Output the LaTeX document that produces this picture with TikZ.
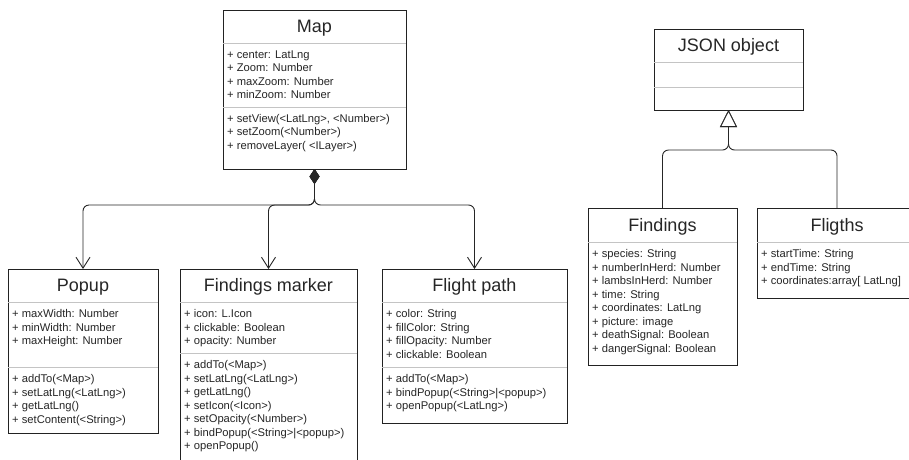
\documentclass[tikz,border=0pt]{standalone}
\usepackage{fontspec}
\setmainfont{Liberation Sans}
\usetikzlibrary{arrows.meta}
\definecolor{boxline}{HTML}{222222}
\definecolor{sepline}{HTML}{C4C4C4}
\tikzset{
  cls/.style={draw=boxline, line width=0.9pt, fill=white, inner sep=0pt, outer sep=0pt, anchor=north west},
  sep/.style={draw=sepline, line width=0.9pt},
  ttl/.style={anchor=base, inner sep=0pt, font=\fontsize{18}{20}\selectfont, text=black!85},
  txt/.style={anchor=base west, inner sep=0pt, font=\fontsize{11.2}{13}\selectfont, text=black!85},
  conn/.style={draw=black!85, line width=0.9pt, rounded corners=6pt},
  comp/.style={conn, {Diamond[length=15pt,width=10pt]}-{Straight Barb[length=11pt,width=14pt,line width=0.9pt]}},
  inh/.style={conn, -{Triangle[open,length=17pt,width=17pt,fill=white]}}
}
\newcommand\umllines[4]{%
  \foreach \t [count=\i] in {#4} \node[txt, name=#1\i] at (#2, {#3+(\i-1)*13.5}) {\t};}
\begin{document}
\begin{tikzpicture}[x=1pt,y=-1pt]
\clip (0,0) rectangle (909,459);
\fill[white] (0,0) rectangle (909,459);

% Map
\node[cls, minimum width=183pt, minimum height=159pt] (map) at (223,10) {};
\draw[sep] (223,43) -- (406,43);
\draw[sep] (223,107) -- (406,107);
\node[ttl] (mapt) at (314.5,32.8) {Map};
\umllines{mapa}{227}{58}{+ center: LatLng, + Zoom: Number, + maxZoom: Number, + minZoom: Number}
\umllines{mapm}{227}{122}{{+ setView(<LatLng>, <Number>)}, + setZoom(<Number>), + removeLayer( <ILayer>)}

% Popup
\node[cls, minimum width=150pt, minimum height=164pt] (popup) at (8,269) {};
\draw[sep] (8,302) -- (158,302);
\draw[sep] (8,367) -- (158,367);
\node[ttl] (popupt) at (83,291.8) {Popup};
\umllines{popa}{12}{317.5}{+ maxWidth: Number, + minWidth: Number, + maxHeight: Number}
\umllines{popm}{12}{382.5}{+ addTo(<Map>), + setLatLng(<LatLng>), + getLatLng(), + setContent(<String>)}

% Findings marker
\node[cls, minimum width=177pt, minimum height=210pt] (marker) at (180,269) {};
\draw[sep] (180,302) -- (357,302);
\draw[sep] (180,353) -- (357,353);
\node[ttl] (markert) at (268.5,291.8) {Findings marker};
\umllines{mara}{184}{317.5}{+ icon: L.Icon, + clickable: Boolean, + opacity: Number}
\umllines{marm}{184}{368.5}{+ addTo(<Map>), + setLatLng(<LatLng>), + getLatLng(), + setIcon(<Icon>), + setOpacity(<Number>), + bindPopup(<String>|<popup>), + openPopup()}

% Flight path
\node[cls, minimum width=185pt, minimum height=154pt] (flight) at (382,269) {};
\draw[sep] (382,302) -- (567,302);
\draw[sep] (382,367) -- (567,367);
\node[ttl] (flightt) at (474.5,291.8) {Flight path};
\umllines{flia}{386}{317.5}{+ color: String, + fillColor: String, + fillOpacity: Number, + clickable: Boolean}
\umllines{flim}{386}{382.5}{+ addTo(<Map>), + bindPopup(<String>|<popup>), + openPopup(<LatLng>)}

% JSON object
\node[cls, minimum width=149pt, minimum height=81pt] (json) at (654,29) {};
\draw[sep] (654,62) -- (803,62);
\draw[sep] (654,87) -- (803,87);
\node[ttl] (jsont) at (728.5,51.8) {JSON object};

% Findings
\node[cls, minimum width=149pt, minimum height=157pt] (findings) at (588,208) {};
\draw[sep] (588,242) -- (737,242);
\node[ttl] (findingst) at (662.5,231.3) {Findings};
\umllines{fina}{592}{257.5}{+ species: String, + numberInHerd: Number, + lambsInHerd: Number, + time: String, + coordinates: LatLng, + picture: image, + deathSignal: Boolean, + dangerSignal: Boolean}

% Fligths
\node[cls, minimum width=160pt, minimum height=90pt] (fligths) at (757,208) {};
\draw[sep] (757,242) -- (917,242);
\node[ttl] (fligthst) at (837,231.3) {Fligths};
\umllines{flga}{761}{257.5}{+ startTime: String, + endTime: String, {+ coordinates:array[ LatLng]}}

% composition connectors
\coordinate (mj) at (314.5,205);
\draw[comp] (map.south) -- (mj) -| (popup.north);
\draw[comp] (map.south) -- (mj) -| (marker.north);
\draw[comp] (map.south) -- (mj) -| (flight.north);

% inheritance connectors
\coordinate (jj) at (728.5,150);
\draw[inh] (findings.north) |- (jj) -- (json.south);
\draw[inh] (fligths.north) |- (jj) -- (json.south);
\end{tikzpicture}
\end{document}
